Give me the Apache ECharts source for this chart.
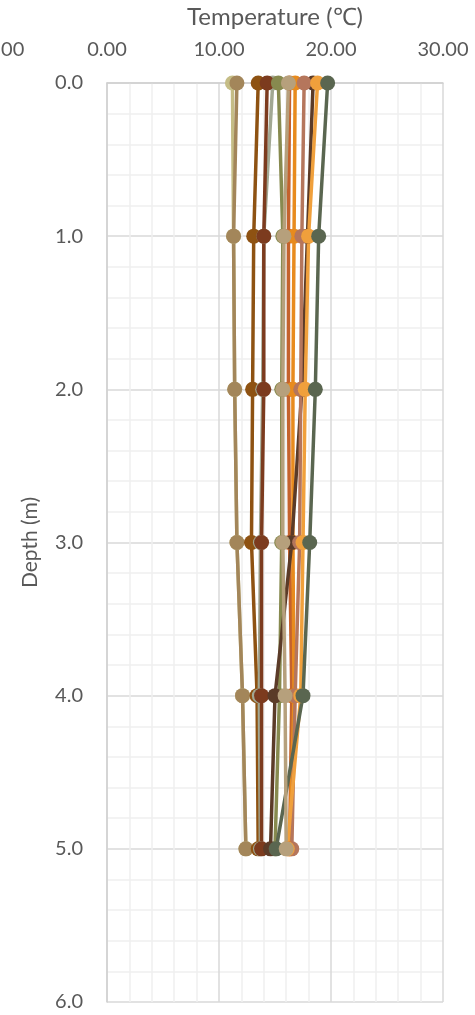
<!DOCTYPE html>
<html lang="en">
<head>
    <meta charset="UTF-8">
    <title>Temperature profile</title>
    <script src="https://cdn.jsdelivr.net/npm/echarts@6/dist/echarts.min.js"></script>
    <style>
        html, body { margin: 0; padding: 0; background: #fff; }
        #myCharts { width: 475px; height: 1015px; }
    </style>
</head>
<body>
<div id="myCharts"></div>
<script>
    // depth of each reading (m)
    const depths = [0, 1, 2, 3, 4, 5];

    // temperature profiles (°C), one per series
    const tempKhaki    = [11.2, 11.3, 11.4, 11.6, 12.1, 12.4];
    const tempTan      = [11.6, 11.3, 11.4, 11.6, 12.1, 12.4];
    const tempBrown    = [13.5, 13.1, 13.0, 12.9, 13.4, 13.5];
    const tempGreyGrn  = [14.8, 14.0, 13.9, 13.7, 13.6, 13.7];
    const tempRedBrown = [14.3, 14.0, 14.0, 13.8, 13.8, 13.8];
    const tempOlive    = [15.3, 15.7, 15.6, 15.6, 15.4, 15.0];
    const tempRust     = [16.3, 16.2, 16.2, 16.3, 16.5, 16.3];
    const tempOrange   = [16.8, 16.7, 16.6, 16.6, 16.7, 16.3];
    const tempDarkBrn  = [18.4, 17.9, 17.4, 16.5, 15.0, 14.6];
    const tempSalmon   = [17.6, 17.4, 17.3, 17.2, 16.8, 16.5];
    const tempLtOrange = [18.8, 18.0, 17.7, 17.5, 17.3, 16.1];
    const tempDarkGrn  = [19.7, 18.9, 18.6, 18.1, 17.5, 15.1];
    const tempLtTan    = [16.2, 15.8, 15.7, 15.7, 15.9, 16.0];

    const profiles = [
        {t: tempKhaki, c: '#C5BD86'},
        {t: tempTan, c: '#A3865A'},
        {t: tempBrown, c: '#8E5212'},
        {t: tempGreyGrn, c: '#A2A893'},
        {t: tempRedBrown, c: '#7C3B1E'},
        {t: tempOlive, c: '#878A4F'},
        {t: tempRust, c: '#C4622D'},
        {t: tempOrange, c: '#E88B1E'},
        {t: tempDarkBrn, c: '#5B3B28'},
        {t: tempSalmon, c: '#B5765C'},
        {t: tempLtOrange, c: '#F0A03C'},
        {t: tempDarkGrn, c: '#5A6650'},
        {t: tempLtTan, c: '#B6A07C'}
    ];

    const font = 'Lato, "Open Sans", sans-serif';
    const txt = '#595959';

    let myChart = echarts.init(document.getElementById('myCharts'));
    myChart.setOption({
        backgroundColor: '#fff',
        animation: false,
        grid: [
            {left: 107, right: 32, top: 83, bottom: 13, containLabel: false, outerBoundsMode: 'none'},
            {left: -5, right: 32, top: 83, bottom: 13, containLabel: false, outerBoundsMode: 'none'}
        ],
        xAxis: [
            {
                gridIndex: 0, type: 'value', position: 'top',
                min: 0, max: 30, interval: 10,
                axisLine: {show: true, lineStyle: {color: '#D0D0D0', width: 1.5}},
                axisTick: {show: false},
                axisLabel: {show: false},
                splitLine: {show: true, lineStyle: {color: '#D9D9D9', width: 1.5}},
                minorTick: {show: false, splitNumber: 5},
                minorSplitLine: {show: true, lineStyle: {color: '#F0F0F0', width: 1.5}}
            },
            {
                gridIndex: 1, type: 'value', position: 'top',
                min: -10, max: 30, interval: 10,
                name: 'Temperature (℃)', nameLocation: 'middle', nameGap: 54,
                nameTextStyle: {color: txt, fontSize: 24, fontFamily: font, padding: [0, 0, 0, 112]},
                axisLine: {show: false},
                axisTick: {show: false},
                splitLine: {show: false},
                axisLabel: {
                    color: txt, fontSize: 20, fontFamily: font, margin: 23,
                    formatter: v => v.toFixed(2)
                }
            }
        ],
        yAxis: [
            {
                gridIndex: 0, type: 'value', inverse: true,
                min: 0, max: 6, interval: 1,
                name: 'Depth (m)', nameLocation: 'middle', nameGap: 66, nameRotate: 90,
                nameTextStyle: {color: txt, fontSize: 21, fontFamily: font},
                axisLine: {show: true, lineStyle: {color: '#D0D0D0', width: 1.5}},
                axisTick: {show: false},
                axisLabel: {
                    color: txt, fontSize: 20, fontFamily: font, margin: 24,
                    formatter: v => v.toFixed(1)
                },
                splitLine: {show: true, lineStyle: {color: '#D9D9D9', width: 1.5}},
                minorTick: {show: false, splitNumber: 5},
                minorSplitLine: {show: true, lineStyle: {color: '#F0F0F0', width: 1.5}}
            },
            {
                gridIndex: 1, type: 'value', inverse: true, min: 0, max: 6, show: false
            }
        ],
        series: profiles.map(p => ({
            type: 'line',
            xAxisIndex: 0, yAxisIndex: 0,
            data: depths.map((d, i) => [p.t[i], d]),
            symbol: 'circle',
            symbolSize: 15,
            showSymbol: true,
            lineStyle: {color: p.c, width: 3.5},
            itemStyle: {color: p.c}
        }))
    });
</script>
</body>
</html>
